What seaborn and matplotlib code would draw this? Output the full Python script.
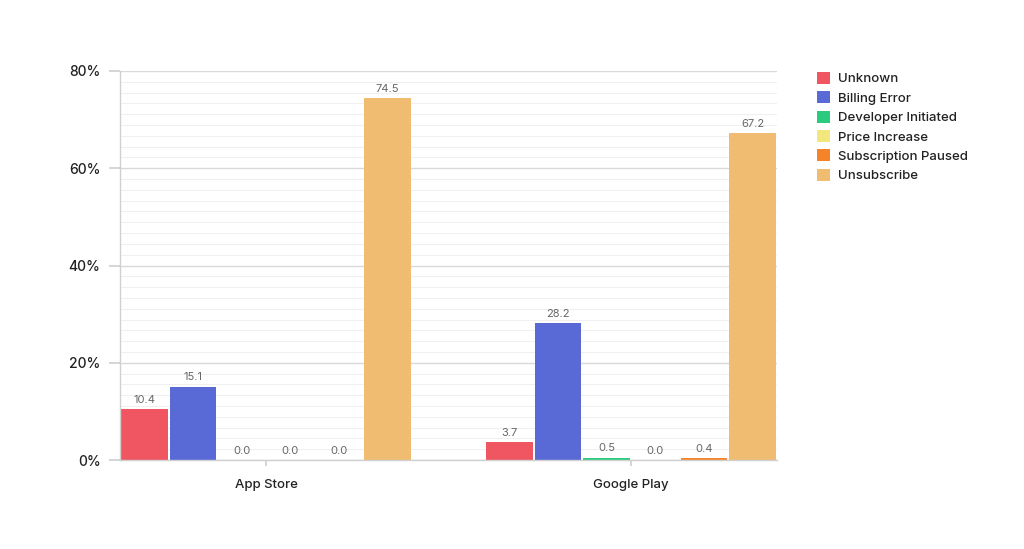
import matplotlib
matplotlib.use("Agg")
import matplotlib.pyplot as plt
import seaborn as sns
import pandas as pd
from matplotlib.ticker import MultipleLocator, FuncFormatter

stores = ["App Store", "Google Play"]
reasons = ["Unknown", "Billing Error", "Developer Initiated", "Price Increase",
           "Subscription Paused", "Unsubscribe"]
app_store = [10.4, 15.1, 0.0, 0.0, 0.0, 74.5]
google_play = [3.7, 28.2, 0.5, 0.0, 0.4, 67.2]
colors = ["#EF5661", "#5969D6", "#2BCB7F", "#F2E77D", "#F5832A", "#F0BC72"]

rows = []
for store, vals in zip(stores, [app_store, google_play]):
    for r, v in zip(reasons, vals):
        rows.append({"store": store, "reason": r, "value": v})
df = pd.DataFrame(rows)

sns.set_theme(style="white")
plt.rcParams["font.family"] = ["Inter", "DejaVu Sans"]

fig = plt.figure(figsize=(10.24, 5.49), dpi=100)
ax = fig.add_axes([120/1024, 1-460/549, 657/1024, 389/549])

sns.barplot(data=df, x="store", y="value", hue="reason", hue_order=reasons,
            palette=colors, ax=ax, width=0.8, gap=0.04, linewidth=0,
            saturation=1, legend=True)

ax.set_xlim(-0.4, 1.4)
ax.set_ylim(0, 80)
ax.yaxis.set_major_locator(MultipleLocator(20))
ax.yaxis.set_minor_locator(MultipleLocator(20/9))
ax.yaxis.set_major_formatter(FuncFormatter(lambda v, p: f"{int(v)}%"))
ax.grid(axis="y", which="major", color="#d9d9d9", linewidth=1)
ax.grid(axis="y", which="minor", color="#f0f0f0", linewidth=0.8)
ax.set_axisbelow(True)
ax.set_xlabel("")
ax.set_ylabel("")

for s in ["top", "right"]:
    ax.spines[s].set_visible(False)
for s in ["left", "bottom"]:
    ax.spines[s].set_color("#d0d0d0")
    ax.spines[s].set_linewidth(1)

ax.tick_params(axis="y", which="major", length=8, color="#d0d0d0", labelsize=10,
               labelcolor="#222222", pad=6, left=True)
ax.tick_params(axis="y", which="minor", length=0)
ax.tick_params(axis="x", length=4, color="#d0d0d0", labelsize=9.5,
               labelcolor="#222222", pad=10, bottom=True)
for lbl in ax.get_xticklabels() + ax.get_yticklabels():
    lbl.set_fontweight("medium")

for cont in ax.containers:
    labels = [f"{b.get_height():.1f}" for b in cont]
    ax.bar_label(cont, labels=labels, padding=3, fontsize=8, color="#666666")

handles, labels = ax.get_legend_handles_labels()
ax.legend_.remove()
leg = fig.legend(handles, labels, loc="upper left", bbox_to_anchor=(817/1024, 1-72/549),
                 frameon=False, fontsize=9.5, handlelength=1.0, handleheight=1.0,
                 labelspacing=0.45, handletextpad=0.6, borderaxespad=0,
                 borderpad=0)
for t in leg.get_texts():
    t.set_color("#222222")
    t.set_fontweight("medium")

fig.savefig("out.png", dpi=100, facecolor="white")
